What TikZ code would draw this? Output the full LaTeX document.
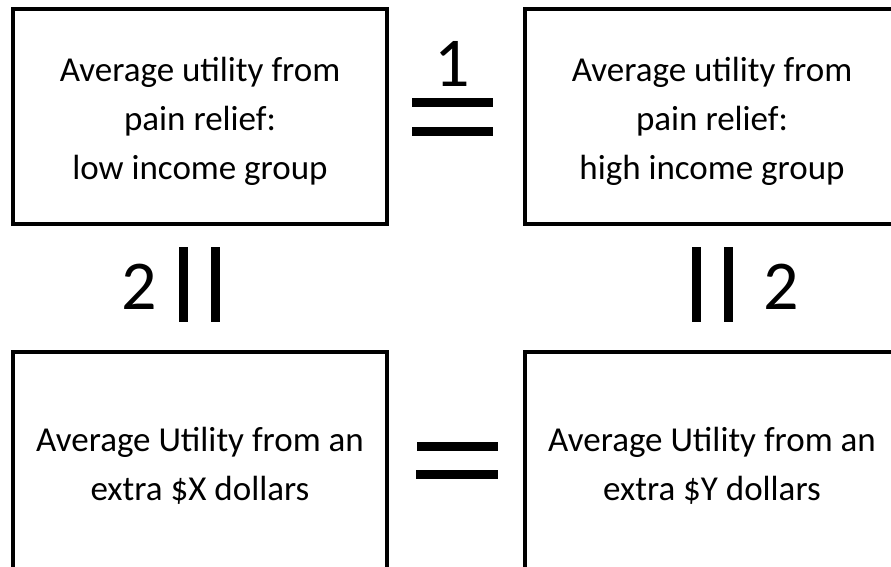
\documentclass[tikz,border=0pt]{standalone}
\usepackage{fontspec}
\setmainfont{Carlito}
\usepackage{tikz}

\begin{document}
\begin{tikzpicture}[x=1pt,y=-1pt,
  box/.style={draw, line width=4pt, align=center, minimum width=374pt, minimum height=215pt, inner sep=0pt, font=\fontsize{35}{49}\selectfont},
  bar/.style={line width=9pt},
  digit/.style={anchor=base, inner sep=0pt, font=\fontsize{70}{70}\selectfont}]
\clip (0,0) rectangle (891,567);
\fill[white] (0,0) rectangle (891,567);

\node[box] (lowpain) at (200,116.5) {\rule{0pt}{34pt}Average utility from\\pain relief:\\low income group};
\node[box] (highpain) at (712,116.5) {\rule{0pt}{34pt}Average utility from\\pain relief:\\high income group};
\node[box, minimum height=228pt] (xdollars) at (200,466) {Average Utility from an\\extra \$X dollars};
\node[box, minimum height=228pt] (ydollars) at (712,466) {Average Utility from an\\extra \$Y dollars};

% equal signs
\draw[bar] (412,102.5) -- (493,102.5);
\draw[bar] (412,132) -- (493,132);
\node[digit] (one) at (452,87) {1};
\draw[bar] (417,446) -- (498,446);
\draw[bar] (416,474.5) -- (498,474.5);

% vertical equal signs
\draw[bar] (183.5,247) -- (183.5,322);
\draw[bar] (215.5,247) -- (215.5,322);
\node[digit] (twoleft) at (139,309) {2};
\draw[bar] (696.5,247) -- (696.5,322);
\draw[bar] (728,247) -- (728,322);
\node[digit] (tworight) at (781,309) {2};
\end{tikzpicture}
\end{document}
